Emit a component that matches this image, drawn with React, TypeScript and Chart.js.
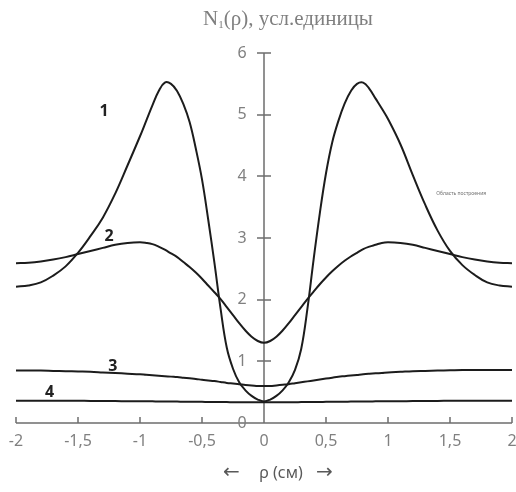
import { useEffect, useRef } from "react";
import { Chart, registerables } from "chart.js";

Chart.register(...registerables);

// Radial coordinate ρ (cm)
const rho = [
  -2, -1.9, -1.8, -1.7, -1.6, -1.5, -1.4, -1.3, -1.2, -1.1,
  -1.0, -0.95, -0.9, -0.85, -0.8, -0.75, -0.7, -0.65, -0.6, -0.55,
  -0.5, -0.45, -0.4, -0.35, -0.3, -0.25, -0.2, -0.15, -0.1, -0.05,
  0,
  0.05, 0.1, 0.15, 0.2, 0.25, 0.3, 0.35, 0.4, 0.45, 0.5,
  0.55, 0.6, 0.65, 0.7, 0.75, 0.8, 0.85, 0.9, 0.95, 1.0,
  1.1, 1.2, 1.3, 1.4, 1.5, 1.6, 1.7, 1.8, 1.9, 2,
];

const curve1 = [
  2.21, 2.23, 2.28, 2.39, 2.54, 2.76, 3.03, 3.33, 3.72, 4.18,
  4.65, 4.9, 5.15, 5.38, 5.52, 5.5, 5.38, 5.17, 4.88, 4.45,
  3.95, 3.3, 2.6, 1.85, 1.22, 0.88, 0.66, 0.53, 0.44, 0.38,
  0.35,
  0.38, 0.44, 0.53, 0.66, 0.86, 1.2, 1.85, 2.65, 3.4, 4.05,
  4.55, 4.9, 5.18, 5.38, 5.5, 5.52, 5.42, 5.26, 5.1, 4.93,
  4.52, 4.02, 3.54, 3.12, 2.79, 2.56, 2.4, 2.28, 2.23, 2.21,
];

const curve2 = [
  2.59, 2.6, 2.62, 2.65, 2.69, 2.74, 2.79, 2.84, 2.89, 2.92,
  2.93, 2.92, 2.9, 2.86, 2.81, 2.75, 2.69, 2.61, 2.53, 2.44,
  2.34, 2.23, 2.12, 2.01, 1.88, 1.75, 1.62, 1.5, 1.4, 1.33,
  1.3,
  1.33, 1.4, 1.5, 1.62, 1.75, 1.88, 2.01, 2.13, 2.25, 2.36,
  2.46, 2.55, 2.63, 2.7, 2.76, 2.82, 2.86, 2.89, 2.92, 2.93,
  2.92, 2.89, 2.84, 2.79, 2.74, 2.69, 2.65, 2.62, 2.6, 2.59,
];

const curve3 = [
  0.85, 0.85, 0.85, 0.845, 0.84, 0.835, 0.83, 0.82, 0.81, 0.8,
  0.79, 0.782, 0.775, 0.768, 0.76, 0.752, 0.745, 0.735, 0.725, 0.715,
  0.7, 0.69, 0.68, 0.665, 0.65, 0.64, 0.63, 0.615, 0.61, 0.6,
  0.6,
  0.6, 0.61, 0.62, 0.63, 0.645, 0.66, 0.675, 0.69, 0.705, 0.72,
  0.735, 0.75, 0.76, 0.77, 0.78, 0.79, 0.798, 0.805, 0.812, 0.82,
  0.83, 0.84, 0.845, 0.85, 0.855, 0.86, 0.86, 0.86, 0.86, 0.86,
];

const curve4 = [
  0.36, 0.36, 0.36, 0.36, 0.36, 0.36, 0.358, 0.356, 0.355, 0.354,
  0.353, 0.352, 0.351, 0.35, 0.349, 0.348, 0.347, 0.346, 0.345, 0.344,
  0.343, 0.342, 0.341, 0.34, 0.339, 0.338, 0.337, 0.336, 0.335, 0.335,
  0.335,
  0.335, 0.335, 0.336, 0.337, 0.338, 0.339, 0.34, 0.341, 0.342, 0.343,
  0.344, 0.345, 0.346, 0.347, 0.348, 0.349, 0.35, 0.351, 0.352, 0.353,
  0.354, 0.355, 0.356, 0.358, 0.36, 0.36, 0.36, 0.36, 0.36, 0.36,
];

const xTickValues = [-2, -1.5, -1, -0.5, 0, 0.5, 1, 1.5, 2];
const xTickLabels = ["-2", "-1,5", "-1", "-0,5", "0", "0,5", "1", "1,5", "2"];
const yTickValues = [0, 1, 2, 3, 4, 5, 6];
const yTickLabels = ["0", "1", "2", "3", "4", "5", "6"];

// curve number annotations, in data coordinates
const curveNames = ["1", "2", "3", "4"];
const curveNameRho = [-1.29, -1.25, -1.22, -1.73];
const curveNameN = [5.05, 3.02, 0.91, 0.5];

const series = [curve1, curve2, curve3, curve4];

const centerAxes = {
  id: "centerAxes",
  beforeDatasetsDraw(chart: any) {
    const { ctx } = chart;
    const xs = chart.scales.x;
    const ys = chart.scales.y;
    const x0 = xs.getPixelForValue(0);
    const y0 = ys.getPixelForValue(0);
    ctx.save();
    ctx.strokeStyle = "#6e6e6e";
    ctx.lineWidth = 1.5;
    ctx.beginPath();
    ctx.moveTo(xs.getPixelForValue(xTickValues[0]), y0);
    ctx.lineTo(xs.getPixelForValue(xTickValues[xTickValues.length - 1]), y0);
    for (const v of xTickValues) {
      const px = Math.round(xs.getPixelForValue(v));
      ctx.moveTo(px, y0);
      ctx.lineTo(px, y0 - 6);
    }
    ctx.moveTo(x0, ys.getPixelForValue(yTickValues[yTickValues.length - 1]));
    ctx.lineTo(x0, y0);
    for (const v of yTickValues) {
      if (v === 0) continue;
      const py = Math.round(ys.getPixelForValue(v));
      ctx.moveTo(x0 - 7, py);
      ctx.lineTo(x0 + 7, py);
    }
    ctx.stroke();

    ctx.fillStyle = "#808080";
    ctx.font = '16px "Noto Sans"';
    ctx.textAlign = "center";
    ctx.textBaseline = "middle";
    xTickValues.forEach((v, i) => {
      ctx.fillText(xTickLabels[i], xs.getPixelForValue(v), y0 + 18);
    });
    yTickValues.forEach((v, i) => {
      ctx.fillText(yTickLabels[i], x0 - 22, ys.getPixelForValue(v));
    });
    ctx.restore();
  },
  afterDatasetsDraw(chart: any) {
    const { ctx } = chart;
    const xs = chart.scales.x;
    const ys = chart.scales.y;
    const x0 = xs.getPixelForValue(0);
    const y0 = ys.getPixelForValue(0);
    ctx.save();
    // curve numbers
    ctx.fillStyle = "#222222";
    ctx.font = 'bold 16px "Noto Sans"';
    ctx.textAlign = "center";
    ctx.textBaseline = "middle";
    curveNames.forEach((n, i) => {
      ctx.fillText(n, xs.getPixelForValue(curveNameRho[i]), ys.getPixelForValue(curveNameN[i]));
    });

    // x axis title: "← ρ (см) →"
    ctx.fillStyle = "#595959";
    const ay = y0 + 50;
    ctx.font = '20px "DejaVu Sans"';
    ctx.textAlign = "left";
    ctx.fillText("←", x0 - 41, ay);
    ctx.fillText("→", x0 + 52, ay);
    ctx.font = '16px "Noto Sans"';
    ctx.textAlign = "center";
    ctx.fillText("ρ (см)", x0 + 17, ay);

    // top title
    ctx.fillStyle = "#7f7f7f";
    ctx.textAlign = "left";
    ctx.textBaseline = "alphabetic";
    const top = ys.getPixelForValue(yTickValues[yTickValues.length - 1]);
    let tx = x0 - 61;
    const ty = top - 28;
    ctx.font = '21px "Liberation Serif"';
    ctx.fillText("N", tx, ty);
    tx += ctx.measureText("N").width;
    ctx.font = '11px "Liberation Serif"';
    ctx.fillText("1", tx, ty + 3);
    tx += ctx.measureText("1").width;
    ctx.font = '21px "Liberation Serif"';
    ctx.fillText("(ρ), усл.единицы", tx, ty);

    // tiny plot-area tag
    ctx.fillStyle = "#707070";
    ctx.font = '5px "Noto Sans"';
    ctx.textAlign = "center";
    ctx.textBaseline = "middle";
    ctx.fillText("Область построения", xs.getPixelForValue(1.59), ys.getPixelForValue(3.72));
    ctx.restore();
  },
};

export default function App() {
  const ref = useRef<HTMLCanvasElement | null>(null);
  useEffect(() => {
    if (!ref.current) return;
    const chart = new Chart(ref.current, {
      type: "scatter",
      data: {
        datasets: series.map((s, k) => ({
          label: curveNames[k],
          data: rho.map((r, i) => ({ x: r, y: s[i] })),
          showLine: true,
          borderColor: "#1c1c1c",
          borderWidth: 2,
          pointRadius: 0,
          fill: false,
          tension: 0.4,
        })),
      },
      options: {
        responsive: false,
        animation: false,
        layout: { padding: { left: 16, right: 4, top: 53, bottom: 69 } },
        scales: {
          x: { type: "linear", min: -2, max: 2, display: false },
          y: { type: "linear", min: 0, max: 6, display: false },
        },
        plugins: {
          legend: { display: false },
          tooltip: { enabled: false },
          title: { display: false },
        },
      },
      plugins: [centerAxes],
    });
    return () => chart.destroy();
  }, []);
  return (
    <div style={{ position: "fixed", left: 0, top: 0, width: 516, height: 492, background: "#fff" }}>
      <canvas ref={ref} width={516} height={492} style={{ display: "block" }} />
    </div>
  );
}
